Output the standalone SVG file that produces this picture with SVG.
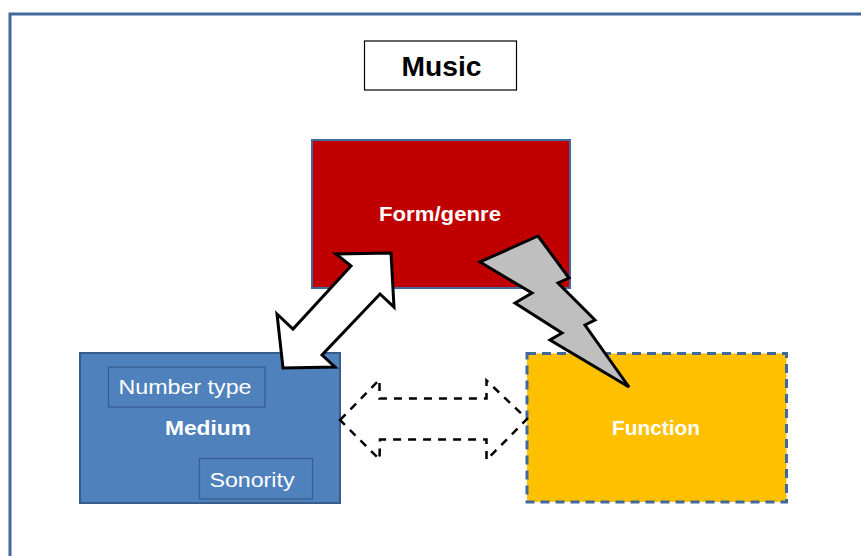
<svg xmlns="http://www.w3.org/2000/svg" width="861" height="556" viewBox="0 0 861 556">
  <style>
    .lbl { font-family: "Liberation Sans", Arial, sans-serif; text-anchor: middle; }
    .bold { font-weight: bold; }
    .white { fill: #FFFFFF; }
    .sub { fill: none; stroke: #385D8A; stroke-width: 1.2; }
  </style>
  <rect width="861" height="556" fill="#FFFFFF"/>
  <!-- outer frame, running off the right and bottom edges -->
  <rect x="10" y="14" width="900" height="600" fill="none" stroke="#41689A" stroke-width="3"/>

  <g id="music">
    <rect x="364.5" y="41" width="152" height="49" fill="#FFFFFF" stroke="#000000" stroke-width="1.2"/>
    <text class="lbl bold" x="441.5" y="75.5" font-size="28" fill="#000000" textLength="80" lengthAdjust="spacingAndGlyphs">Music</text>
  </g>

  <g id="form-genre">
    <rect x="312" y="140" width="258" height="148" fill="#C00000" stroke="#41689A" stroke-width="2"/>
    <text class="lbl bold white" x="440" y="221" font-size="21" textLength="122" lengthAdjust="spacingAndGlyphs">Form/genre</text>
  </g>

  <g id="medium">
    <rect x="80" y="353" width="260" height="150" fill="#4F81BD" stroke="#385D8A" stroke-width="2"/>
    <rect class="sub" x="108.5" y="367" width="156.5" height="40"/>
    <text class="lbl white" x="185" y="394" font-size="21" textLength="133" lengthAdjust="spacingAndGlyphs">Number type</text>
    <text class="lbl bold white" x="208" y="435" font-size="21" textLength="86" lengthAdjust="spacingAndGlyphs">Medium</text>
    <rect class="sub" x="199.5" y="458.5" width="113" height="40.5"/>
    <text class="lbl white" x="252" y="487" font-size="21" textLength="85" lengthAdjust="spacingAndGlyphs">Sonority</text>
  </g>

  <g id="function">
    <rect x="527" y="353.5" width="259.5" height="148.5" fill="#FFC000" stroke="#41689A" stroke-width="3" stroke-dasharray="9 6"/>
    <text class="lbl bold white" x="656" y="435" font-size="21" textLength="88" lengthAdjust="spacingAndGlyphs">Function</text>
  </g>

  <g id="connectors" stroke="#000000" stroke-linejoin="miter">
    <!-- solid two-way arrow between Medium and Form/genre -->
    <polygon points="391,253 336,254 351,266 293,329 277,314 283,368 335,367 322,355 380,294 394,307" fill="#FFFFFF" stroke-width="3"/>
    <!-- lightning bolt from Form/genre to Function -->
    <polygon points="538,236 569,278 558,283 595,320 585,325 629,387 550,340 562,333 515,303 532,293 480,262" fill="#BFBFBF" stroke-width="3"/>
    <!-- dashed two-way arrow between Medium and Function -->
    <polygon points="340,420 379.5,379.5 379.5,398.5 486.5,398.5 486.5,380.5 527,419 486.5,460 486.5,439.5 380,439.5 379.5,459.5" fill="#FFFFFF" stroke-width="2.5" stroke-dasharray="8 7"/>
  </g>
</svg>
